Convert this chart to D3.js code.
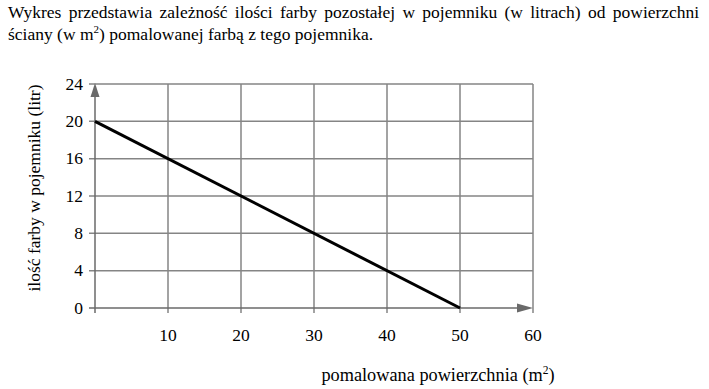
<!DOCTYPE html>
<html>
<head>
<meta charset="utf-8">
<script src="https://cdn.jsdelivr.net/npm/d3@7"></script>
<style>
  body { margin: 0; background: #fff; }
  svg { display: block; }
</style>
</head>
<body>
<svg id="chart" width="709" height="389"></svg>
<script>
// data
const areaPoints = [0, 50]          // pomalowana powierzchnia (m2)
const paintPoints = [20, 0]         // ilość farby (litr)
const xTicks = [10, 20, 30, 40, 50, 60]
const yTicks = [0, 4, 8, 12, 16, 20, 24]

const FONT = 'Liberation Serif'

const svg = d3.select('#chart')

const x = d3.scaleLinear().domain([0, 60]).range([95, 533])
const y = d3.scaleLinear().domain([0, 24]).range([308, 84])

const GRID = '#858585', AXIS = '#6a6a6a'

// header text (first line is justified in the original)
const head = svg.append('g').attr('font-size', 17.5).attr('fill', '#000')
head.append('text').attr('font-family', FONT).attr('x', 8).attr('y', 18)
  .attr('word-spacing', 2.9)
  .text('Wykres przedstawia zależność ilości farby pozostałej w pojemniku (w litrach) od powierzchni')
const l2 = head.append('text').attr('font-family', FONT).attr('x', 8).attr('y', 40)
l2.append('tspan').text('ściany (w m')
l2.append('tspan').attr('font-size', 11).attr('dy', -7).text('2')
l2.append('tspan').attr('dy', 7).text(') pomalowanej farbą z tego pojemnika.')

// grid
svg.append('g').selectAll('line').data(xTicks).join('line')
  .attr('x1', d => x(d)).attr('x2', d => x(d))
  .attr('y1', y(24)).attr('y2', y(0) + 5)
  .attr('stroke', GRID).attr('stroke-width', 1.5)

svg.append('g').selectAll('line').data(yTicks).join('line')
  .attr('x1', x(0) - 6).attr('x2', d => d === 0 ? x(60) - 14 : x(60))
  .attr('y1', d => y(d)).attr('y2', d => y(d))
  .attr('stroke', d => d === 0 ? AXIS : GRID).attr('stroke-width', 1.5)

// y axis line + arrow
svg.append('line')
  .attr('x1', x(0)).attr('x2', x(0)).attr('y1', y(0) + 5).attr('y2', y(24) + 12)
  .attr('stroke', AXIS).attr('stroke-width', 1.5)
svg.append('path')
  .attr('d', `M${x(0)},${y(24) - 1}L${x(0) - 4.5},${y(24) + 13}L${x(0) + 4.5},${y(24) + 13}Z`)
  .attr('fill', AXIS)

// x arrow
svg.append('path')
  .attr('d', `M${x(60)},${y(0)}L${x(60) - 16},${y(0) - 4.5}L${x(60) - 16},${y(0) + 4.5}Z`)
  .attr('fill', AXIS)

// data line
svg.append('path')
  .datum(areaPoints.map((a, i) => [a, paintPoints[i]]))
  .attr('d', d3.line().x(d => x(d[0])).y(d => y(d[1])))
  .attr('fill', 'none').attr('stroke', '#000').attr('stroke-width', 3)

// tick labels
svg.append('g').attr('font-size', 17.5).attr('font-family', FONT).attr('text-anchor', 'end')
  .selectAll('text').data(yTicks).join('text')
  .attr('x', 83).attr('y', d => y(d)).attr('dy', '0.33em')
  .text(d => d)

svg.append('g').attr('font-size', 17.5).attr('font-family', FONT).attr('text-anchor', 'middle')
  .selectAll('text').data(xTicks).join('text')
  .attr('x', d => x(d)).attr('y', 341)
  .text(d => d)

// axis titles
const xt = svg.append('text').attr('font-family', FONT).attr('font-size', 18.3).attr('text-anchor', 'middle')
  .attr('x', 438).attr('y', 381)
xt.append('tspan').text('pomalowana powierzchnia (m')
xt.append('tspan').attr('font-size', 11.5).attr('dy', -7).text('2')
xt.append('tspan').attr('dy', 7).text(')')

svg.append('text').attr('font-family', FONT).attr('font-size', 17.5).attr('text-anchor', 'middle')
  .attr('transform', 'translate(40,188) rotate(-90)')
  .text('ilość farby w pojemniku (litr)')
</script>
</body>
</html>
